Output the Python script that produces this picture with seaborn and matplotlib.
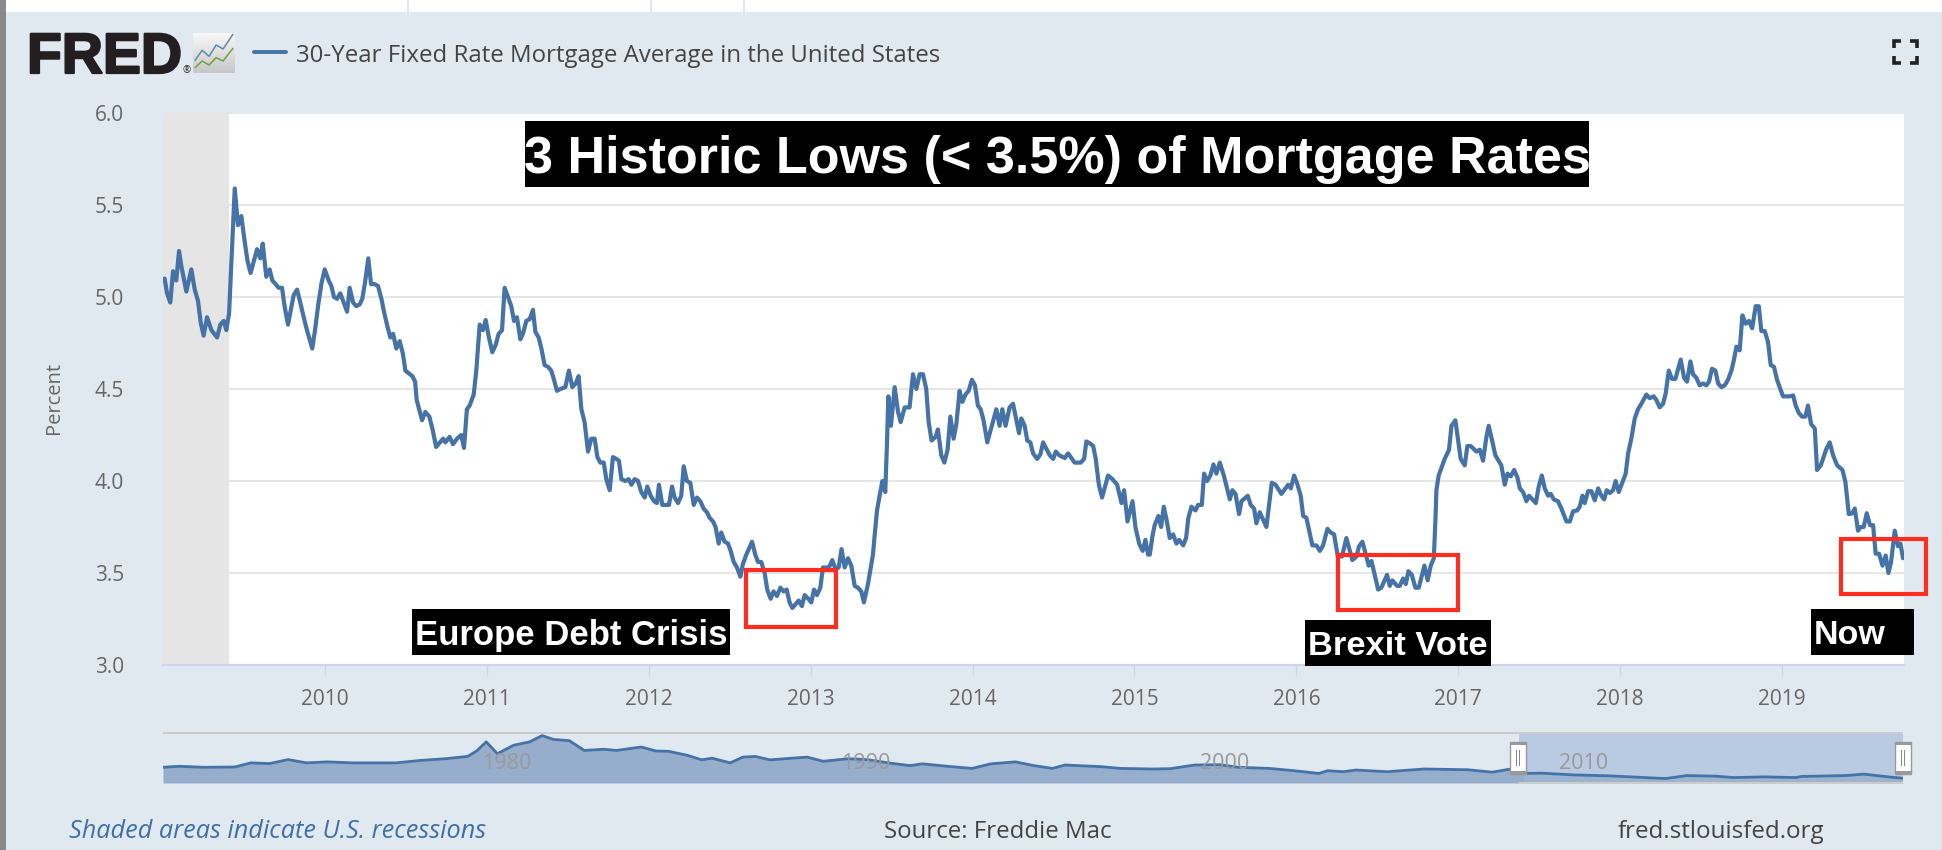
import matplotlib
matplotlib.use("Agg")
import matplotlib.pyplot as plt
import matplotlib.patheffects as pe
from matplotlib.patches import Rectangle
import seaborn as sns
import pandas as pd
import numpy as np

W, H = 1942, 850

# weekly rate, percent by decimal year
years_2009 = [2009.010, 2009.025, 2009.045, 2009.062, 2009.082, 2009.099, 2009.113, 2009.144, 2009.175, 2009.196,
              2009.216, 2009.233, 2009.251, 2009.272, 2009.299, 2009.334, 2009.354, 2009.375, 2009.391, 2009.408,
              2009.443, 2009.463, 2009.484, 2009.500, 2009.521, 2009.541, 2009.581, 2009.601, 2009.616, 2009.638,
              2009.659, 2009.675, 2009.696, 2009.714, 2009.735, 2009.751, 2009.772, 2009.807, 2009.828, 2009.848,
              2009.869, 2009.889, 2009.922, 2009.939, 2009.959, 2009.980, 2009.999]
rates_2009 = [5.10, 5.02, 4.97, 5.14, 5.09, 5.25, 5.17, 5.03, 5.15, 5.04,
              4.98, 4.86, 4.79, 4.89, 4.82, 4.78, 4.85, 4.87, 4.82, 4.91,
              5.59, 5.39, 5.44, 5.33, 5.20, 5.13, 5.26, 5.21, 5.29, 5.11,
              5.15, 5.09, 5.07, 5.05, 5.05, 4.95, 4.85, 5.01, 5.04, 4.97,
              4.89, 4.82, 4.72, 4.82, 4.96, 5.08, 5.15]

years_2010 = [2010.023, 2010.040, 2010.056, 2010.075, 2010.095, 2010.116, 2010.137, 2010.153, 2010.174, 2010.194,
              2010.215, 2010.231, 2010.248, 2010.268, 2010.285, 2010.307, 2010.328, 2010.349, 2010.365, 2010.386,
              2010.404, 2010.421, 2010.441, 2010.462, 2010.482, 2010.497, 2010.540, 2010.557, 2010.567, 2010.600,
              2010.620, 2010.645, 2010.665, 2010.687, 2010.730, 2010.744, 2010.770, 2010.791, 2010.816, 2010.842,
              2010.859, 2010.877, 2010.894, 2010.919, 2010.935, 2010.956, 2010.976, 2010.993]
rates_2010 = [5.09, 5.06, 5.00, 4.99, 5.02, 4.97, 4.92, 5.05, 4.97, 4.95,
              4.96, 4.99, 5.08, 5.21, 5.07, 5.07, 5.06, 4.99, 4.92, 4.84,
              4.78, 4.80, 4.72, 4.76, 4.69, 4.60, 4.57, 4.54, 4.44, 4.33,
              4.375, 4.35, 4.28, 4.185, 4.23, 4.21, 4.24, 4.20, 4.23, 4.25,
              4.18, 4.39, 4.41, 4.47, 4.60, 4.85, 4.82, 4.875]

years_2011 = [2011.013, 2011.034, 2011.055, 2011.073, 2011.094, 2011.110, 2011.131, 2011.151, 2011.168, 2011.186,
              2011.207, 2011.223, 2011.244, 2011.265, 2011.285, 2011.300, 2011.320, 2011.337, 2011.357, 2011.378,
              2011.398, 2011.415, 2011.433, 2011.454, 2011.485, 2011.507, 2011.528, 2011.549, 2011.567, 2011.584,
              2011.604, 2011.625, 2011.645, 2011.666, 2011.683, 2011.701, 2011.722, 2011.738, 2011.759, 2011.779,
              2011.800, 2011.816, 2011.831, 2011.855, 2011.876, 2011.893, 2011.913, 2011.934, 2011.954, 2011.975,
              2011.991]
rates_2011 = [4.78, 4.70, 4.74, 4.80, 4.82, 5.05, 5.00, 4.95, 4.87, 4.89,
              4.77, 4.80, 4.87, 4.88, 4.93, 4.81, 4.78, 4.72, 4.63, 4.62,
              4.60, 4.55, 4.49, 4.50, 4.51, 4.60, 4.51, 4.53, 4.57, 4.39,
              4.32, 4.16, 4.23, 4.23, 4.13, 4.10, 4.10, 4.01, 3.95, 4.13,
              4.12, 4.11, 4.01, 4.00, 4.01, 3.98, 4.01, 4.00, 3.94, 3.91,
              3.97]

years_2012 = [2012.012, 2012.033, 2012.051, 2012.063, 2012.084, 2012.125, 2012.144, 2012.160, 2012.181, 2012.201,
              2012.216, 2012.236, 2012.257, 2012.278, 2012.298, 2012.319, 2012.339, 2012.360, 2012.376, 2012.397,
              2012.413, 2012.432, 2012.448, 2012.469, 2012.490, 2012.506, 2012.525, 2012.545, 2012.566, 2012.582,
              2012.603, 2012.638, 2012.658, 2012.675, 2012.695, 2012.716, 2012.732, 2012.753, 2012.771, 2012.792,
              2012.813, 2012.833, 2012.852, 2012.870, 2012.887, 2012.907, 2012.926, 2012.946, 2012.963, 2012.986]
rates_2012 = [3.92, 3.89, 3.88, 3.98, 3.87, 3.87, 3.97, 3.91, 3.88, 3.92,
              4.08, 4.00, 3.99, 3.87, 3.91, 3.89, 3.85, 3.83, 3.80, 3.78,
              3.75, 3.66, 3.72, 3.67, 3.66, 3.62, 3.56, 3.53, 3.48, 3.55,
              3.60, 3.67, 3.60, 3.56, 3.56, 3.50, 3.41, 3.36, 3.40, 3.375,
              3.42, 3.40, 3.41, 3.34, 3.31, 3.33, 3.35, 3.32, 3.38, 3.36]

years_2013 = [2013.004, 2013.021, 2013.039, 2013.060, 2013.076, 2013.113, 2013.134, 2013.154, 2013.173, 2013.191,
              2013.210, 2013.231, 2013.251, 2013.272, 2013.292, 2013.313, 2013.329, 2013.354, 2013.385, 2013.395,
              2013.410, 2013.426, 2013.443, 2013.461, 2013.471, 2013.480, 2013.496, 2013.519, 2013.539, 2013.556,
              2013.581, 2013.611, 2013.632, 2013.653, 2013.673, 2013.694, 2013.714, 2013.729, 2013.747, 2013.772,
              2013.786, 2013.807, 2013.826, 2013.846, 2013.863, 2013.883, 2013.900, 2013.920, 2013.937, 2013.957,
              2013.976, 2013.996]
rates_2013 = [3.34, 3.41, 3.38, 3.42, 3.53, 3.53, 3.57, 3.52, 3.53, 3.63,
              3.53, 3.58, 3.54, 3.43, 3.42, 3.40, 3.34, 3.44, 3.60, 3.70,
              3.84, 3.92, 4.00, 3.94, 4.19, 4.46, 4.30, 4.51, 4.38, 4.32,
              4.40, 4.40, 4.58, 4.50, 4.58, 4.58, 4.50, 4.32, 4.22, 4.24,
              4.28, 4.14, 4.10, 4.17, 4.35, 4.23, 4.31, 4.49, 4.43, 4.47,
              4.49, 4.55]

years_2014 = [2014.015, 2014.033, 2014.050, 2014.068, 2014.091, 2014.116, 2014.147, 2014.167, 2014.184, 2014.204,
              2014.229, 2014.250, 2014.287, 2014.301, 2014.322, 2014.338, 2014.357, 2014.374, 2014.399, 2014.419,
              2014.436, 2014.456, 2014.477, 2014.498, 2014.514, 2014.535, 2014.570, 2014.590, 2014.631, 2014.668,
              2014.689, 2014.703, 2014.724, 2014.745, 2014.761, 2014.780, 2014.800, 2014.837, 2014.864, 2014.893,
              2014.920, 2014.936, 2014.957, 2014.988]
rates_2014 = [4.52, 4.41, 4.39, 4.33, 4.21, 4.29, 4.39, 4.30, 4.39, 4.30,
              4.40, 4.42, 4.26, 4.34, 4.30, 4.22, 4.21, 4.15, 4.12, 4.145,
              4.21, 4.175, 4.14, 4.12, 4.16, 4.14, 4.125, 4.15, 4.10, 4.10,
              4.12, 4.215, 4.205, 4.19, 4.12, 3.98, 3.91, 4.03, 4.01, 3.98,
              3.88, 3.95, 3.78, 3.89]

years_2015 = [2015.006, 2015.029, 2015.051, 2015.068, 2015.084, 2015.095, 2015.111, 2015.125, 2015.148, 2015.165,
              2015.181, 2015.198, 2015.218, 2015.239, 2015.259, 2015.276, 2015.301, 2015.319, 2015.333, 2015.352,
              2015.377, 2015.393, 2015.416, 2015.430, 2015.449, 2015.469, 2015.488, 2015.506, 2015.527, 2015.552,
              2015.589, 2015.605, 2015.624, 2015.646, 2015.661, 2015.700, 2015.718, 2015.739, 2015.753, 2015.774,
              2015.815, 2015.848, 2015.871, 2015.908, 2015.949, 2015.966, 2015.986]
rates_2015 = [3.75, 3.66, 3.62, 3.68, 3.60, 3.60, 3.70, 3.76, 3.81, 3.75,
              3.86, 3.79, 3.69, 3.71, 3.66, 3.68, 3.65, 3.69, 3.80, 3.86,
              3.84, 3.87, 3.87, 4.04, 4.00, 4.03, 4.09, 4.04, 4.10, 4.03,
              3.90, 3.95, 3.93, 3.82, 3.89, 3.92, 3.87, 3.85, 3.77, 3.83,
              3.75, 3.99, 3.98, 3.93, 3.98, 3.96, 4.03]

years_2016 = [2016.007, 2016.027, 2016.042, 2016.062, 2016.099, 2016.124, 2016.145, 2016.165, 2016.192, 2016.212,
              2016.233, 2016.256, 2016.282, 2016.309, 2016.346, 2016.371, 2016.387, 2016.408, 2016.426, 2016.447,
              2016.464, 2016.484, 2016.505, 2016.525, 2016.560, 2016.577, 2016.593, 2016.622, 2016.639, 2016.659,
              2016.676, 2016.692, 2016.713, 2016.735, 2016.756, 2016.791, 2016.811, 2016.830, 2016.849, 2016.859,
              2016.865, 2016.879, 2016.916, 2016.943, 2016.958, 2016.982, 2016.999]
rates_2016 = [3.98, 3.92, 3.81, 3.80, 3.65, 3.65, 3.62, 3.65, 3.74, 3.72,
              3.71, 3.59, 3.59, 3.69, 3.57, 3.59, 3.645, 3.67, 3.61, 3.54,
              3.565, 3.49, 3.41, 3.42, 3.49, 3.43, 3.46, 3.43, 3.43, 3.47,
              3.44, 3.51, 3.49, 3.42, 3.42, 3.54, 3.46, 3.54, 3.58, 3.79,
              3.95, 4.03, 4.12, 4.17, 4.30, 4.33, 4.22]

years_2017 = [2017.015, 2017.040, 2017.056, 2017.077, 2017.112, 2017.133, 2017.153, 2017.174, 2017.188, 2017.209,
              2017.229, 2017.266, 2017.287, 2017.304, 2017.324, 2017.345, 2017.365, 2017.380, 2017.400, 2017.421,
              2017.437, 2017.479, 2017.497, 2017.516, 2017.534, 2017.555, 2017.571, 2017.590, 2017.616, 2017.637,
              2017.668, 2017.689, 2017.709, 2017.734, 2017.750, 2017.767, 2017.781, 2017.802, 2017.822, 2017.843,
              2017.864, 2017.884, 2017.901, 2017.917, 2017.936, 2017.956, 2017.972, 2017.991]
rates_2017 = [4.12, 4.085, 4.19, 4.19, 4.16, 4.17, 4.11, 4.24, 4.30, 4.22,
              4.14, 4.085, 3.98, 4.04, 4.025, 4.06, 4.02, 3.96, 3.94, 3.89,
              3.92, 3.88, 3.97, 4.03, 3.96, 3.92, 3.93, 3.90, 3.89, 3.85,
              3.78, 3.78, 3.835, 3.84, 3.86, 3.92, 3.88, 3.945, 3.945, 3.895,
              3.96, 3.92, 3.90, 3.95, 3.935, 3.95, 4.00, 3.94]

years_2018 = [2018.034, 2018.049, 2018.069, 2018.090, 2018.110, 2018.131, 2018.162, 2018.182, 2018.207, 2018.224,
              2018.244, 2018.265, 2018.281, 2018.300, 2018.320, 2018.341, 2018.374, 2018.395, 2018.413, 2018.434,
              2018.450, 2018.471, 2018.491, 2018.512, 2018.532, 2018.549, 2018.567, 2018.588, 2018.605, 2018.625,
              2018.646, 2018.666, 2018.687, 2018.703, 2018.718, 2018.738, 2018.755, 2018.775, 2018.796, 2018.815,
              2018.837, 2018.856, 2018.872, 2018.893, 2018.913, 2018.930, 2018.950, 2018.969, 2018.985]
rates_2018 = [4.04, 4.15, 4.23, 4.34, 4.39, 4.42, 4.47, 4.45, 4.46, 4.44,
              4.40, 4.42, 4.475, 4.60, 4.555, 4.555, 4.66, 4.56, 4.54, 4.65,
              4.58, 4.56, 4.52, 4.53, 4.52, 4.54, 4.61, 4.60, 4.53, 4.51,
              4.52, 4.55, 4.60, 4.66, 4.73, 4.71, 4.90, 4.855, 4.87, 4.83,
              4.95, 4.95, 4.815, 4.815, 4.755, 4.63, 4.62, 4.55, 4.51]

years_2019 = [2019.006, 2019.047, 2019.068, 2019.084, 2019.103, 2019.123, 2019.144, 2019.160, 2019.179, 2019.202,
              2019.216, 2019.239, 2019.274, 2019.294, 2019.315, 2019.340, 2019.373, 2019.391, 2019.412, 2019.434,
              2019.449, 2019.469, 2019.486, 2019.504, 2019.523, 2019.543, 2019.562, 2019.578, 2019.599, 2019.620,
              2019.640, 2019.657, 2019.673, 2019.696, 2019.716, 2019.731, 2019.747]
rates_2019 = [4.46, 4.46, 4.465, 4.41, 4.37, 4.35, 4.35, 4.41, 4.31, 4.285,
              4.06, 4.085, 4.175, 4.21, 4.14, 4.085, 4.06, 3.995, 3.82, 3.825,
              3.85, 3.73, 3.75, 3.75, 3.825, 3.76, 3.76, 3.605, 3.605, 3.54,
              3.595, 3.50, 3.56, 3.73, 3.645, 3.66, 3.58]

# long history in the range selector
nav_years = [1971.25, 1971.70, 1972.39, 1973.25, 1973.70, 1974.22, 1974.74, 1975.25, 1975.84, 1976.53,
             1977.74, 1978.43, 1979.12, 1979.74, 1979.99, 1980.26, 1980.57, 1981.02, 1981.47, 1981.82,
             1982.13, 1982.58, 1982.99, 1983.54, 1983.89, 1984.58, 1984.99, 1985.34, 1985.86, 1986.27,
             1986.55, 1987.06, 1987.41, 1987.76, 1988.17, 1988.79, 1989.21, 1989.65, 1990.35, 1990.86,
             1991.55, 1992.07, 1992.42, 1993.11, 1993.80, 1994.32, 1995.01, 1995.52, 1996.04, 1996.39,
             1996.91, 1997.42, 1997.94, 1998.81, 1999.32, 2000.01, 2000.70, 2001.22, 2002.09, 2002.78,
             2003.47, 2003.71, 2004.16, 2004.50, 2005.37, 2006.40, 2007.61, 2008.30, 2008.82, 2009.17,
             2009.68, 2010.55, 2011.58, 2013.13, 2013.72, 2014.52, 2015.03, 2015.90, 2016.76, 2016.93,
             2018.14, 2018.66, 2019.52, 2019.73]
nav_rates = [7.3, 7.65, 7.3, 7.4, 8.84, 8.6, 10.0, 8.84, 9.2, 8.84,
             8.84, 9.7, 10.3, 11.1, 13.0, 16.2, 12.05, 15.0, 16.2, 18.4,
             17.05, 16.6, 13.2, 13.6, 13.2, 14.4, 13.0, 12.9, 11.5, 9.9,
             10.5, 8.84, 10.85, 11.1, 9.9, 10.5, 10.85, 9.4, 10.3, 10.0,
             8.7, 7.9, 8.5, 7.65, 6.9, 8.5, 9.2, 7.9, 6.9, 8.1,
             7.8, 7.5, 6.9, 6.7, 6.8, 8.1, 8.2, 7.3, 6.9, 6.1,
             5.15, 6.1, 5.75, 6.35, 5.75, 6.7, 6.45, 5.6, 6.7, 5.15,
             5.25, 4.65, 4.3, 3.35, 4.4, 4.2, 3.7, 3.95, 3.7, 4.1,
             4.4, 4.9, 3.7, 3.5]

y_ticks = [3.0, 3.5, 4.0, 4.5, 5.0, 5.5, 6.0]
x_years = [2010, 2011, 2012, 2013, 2014, 2015, 2016, 2017, 2018, 2019]
nav_decades = [1980, 1990, 2000, 2010]
recession = (2009.0, 2009.41)

series_name = "30-Year Fixed Rate Mortgage Average in the United States"
chart_title = "3 Historic Lows (< 3.5%) of Mortgage Rates"

BG = "#e1e9f0"
LINE = "#4572a7"
TXT = "#666666"
SANS = "Open Sans"


def px_axes(left, top, right, bottom):
    return [left / W, 1 - bottom / H, (right - left) / W, (bottom - top) / H]


def px_rect(left, top, right, bottom, **kw):
    r = Rectangle((left / W, 1 - bottom / H), (right - left) / W, (bottom - top) / H,
                  transform=fig.transFigure, **kw)
    fig.add_artist(r)
    return r


def px_text(x, y, s, **kw):
    return fig.text(x / W, 1 - y / H, s, **kw)


def label_box(left, top, right, bottom, s, size, text_x=None):
    px_rect(left, top, right, bottom, facecolor="black", edgecolor="none", zorder=6)
    x = (left + right) / 2 if text_x is None else text_x
    ha = "center" if text_x is None else "left"
    px_text(x, (top + bottom) / 2, s, color="white", fontsize=size, fontweight="bold",
            family="Liberation Sans", ha=ha, va="center_baseline", zorder=7)


sns.set_theme(style="white")
plt.rcParams["font.family"] = [SANS, "DejaVu Sans"]

df = pd.DataFrame({
    "year": years_2009 + years_2010 + years_2011 + years_2012 + years_2013 + years_2014
    + years_2015 + years_2016 + years_2017 + years_2018 + years_2019,
    "rate": rates_2009 + rates_2010 + rates_2011 + rates_2012 + rates_2013 + rates_2014
    + rates_2015 + rates_2016 + rates_2017 + rates_2018 + rates_2019,
})
nav = pd.DataFrame({"year": nav_years, "rate": nav_rates})

fig = plt.figure(figsize=(W / 100, H / 100), dpi=100, facecolor=BG)

# main chart
ax = fig.add_axes(px_axes(163, 113, 1904, 665))
ax.set_facecolor("white")
ax.axvspan(*recession, color="#e5e5e5", lw=0, zorder=1.5)
sns.lineplot(data=df, x="year", y="rate", color=LINE, linewidth=3.0, ax=ax, zorder=3,
             estimator=None, errorbar=None)
ax.set_xlim(2009.0, 2019.753)
ax.set_ylim(3.0, 6.0)
ax.set_yticks(y_ticks, [f"{v:.1f}" for v in y_ticks])
ax.set_xticks(x_years, [str(v) for v in x_years])
ax.grid(axis="y", color="#e6e6e6", lw=1.4, zorder=1)
ax.set_axisbelow(True)
for side in ["top", "left", "right"]:
    ax.spines[side].set_visible(False)
ax.spines["bottom"].set_color("#ccd6eb")
ax.spines["bottom"].set_linewidth(1.6)
ax.tick_params(axis="y", length=0, pad=28, labelsize=15, labelcolor=TXT)
ax.tick_params(axis="x", length=7, width=1, color="#ccd6eb", pad=10, labelsize=15, labelcolor=TXT, bottom=True)
ax.set_xlabel("")
ax.set_ylabel("")
px_text(54, 398, "Percent", rotation=90, color=TXT, fontsize=14.5, ha="center", va="center")

# range selector
nx = fig.add_axes(px_axes(163, 733, 1903, 783))
nx.set_facecolor(BG)
nx.fill_between(nav["year"], nav["rate"], 1.8, color="#96aecb", lw=0, zorder=2)
sns.lineplot(data=nav, x="year", y="rate", color=LINE, linewidth=2.0, ax=nx, zorder=4,
             estimator=None, errorbar=None)
nx.axvspan(2009.04, 2019.75, color="#b9cbe2", lw=0, zorder=1)
nx.fill_between(nav["year"][nav["year"] >= 2009], nav["rate"][nav["year"] >= 2009], 1.8,
                color="#9db4d0", lw=0, zorder=2.5)
nx.set_xlim(1971.25, 2019.75)
nx.set_ylim(1.8, 19.3)
nx.set_yticks([])
nx.set_xticks([])
nx.set_xlabel("")
nx.set_ylabel("")
for s in nx.spines.values():
    s.set_visible(False)
for d in nav_decades:
    nx.text(d + 0.15, 8.5, str(d), color="#999999", fontsize=15.5, ha="left", va="center", zorder=5)
px_rect(163, 732, 1903, 734, facecolor="#cccccc", edgecolor="none", zorder=5)
px_rect(1518, 782, 1903, 784, facecolor="#cccccc", edgecolor="none", zorder=5)

# selector handles
for hx in [1518, 1903]:
    px_rect(hx - 8, 742, hx + 8, 774, facecolor="white", edgecolor="#999999", lw=1, zorder=6)
    px_rect(hx - 8, 742, hx + 8, 745, facecolor="#999999", edgecolor="none", zorder=6)
    px_rect(hx - 8, 771, hx + 8, 774, facecolor="#999999", edgecolor="none", zorder=6)
    px_rect(hx - 2, 750, hx - 1, 766, facecolor="#888888", edgecolor="none", zorder=7)
    px_rect(hx + 1, 750, hx + 2, 766, facecolor="#888888", edgecolor="none", zorder=7)

# screenshot edges
px_rect(0, 0, W, 12, facecolor="white", edgecolor="none", zorder=1)
px_rect(0, 0, 6, H, facecolor="#8a8a8a", edgecolor="none", zorder=8)
for vx in [407, 650, 743]:
    px_rect(vx, 0, vx + 2, 12, facecolor=BG, edgecolor="none", zorder=2)

# logo and legend
px_text(27, 73, "FRED", family="Liberation Sans", fontweight="bold", fontsize=41, color="#231f20",
        ha="left", va="baseline",
        path_effects=[pe.withStroke(linewidth=1.6, foreground="#231f20")])
px_text(182, 73, "®", fontsize=7, color="#231f20", ha="left", va="baseline")
icon = fig.add_axes(px_axes(193, 33, 235, 73))
icon.imshow(np.linspace(0.97, 0.78, 64)[:, None], cmap="gray", vmin=0, vmax=1, aspect="auto",
            extent=(0, 6, 0, 6))
sns.lineplot(x=[0.3, 1.3, 2.3, 3.3, 4.3, 5.7], y=[1.9, 3.4, 2.5, 4.2, 3.6, 5.8], color="#5b8bb0", linewidth=1.1,
             ax=icon, estimator=None, errorbar=None)
sns.lineplot(x=[0.3, 1.3, 2.3, 3.3, 4.3, 5.7], y=[0.8, 1.8, 1.2, 2.3, 1.8, 3.7], color="#6fa33f", linewidth=1.1,
             ax=icon, estimator=None, errorbar=None)
icon.set_xlim(0, 6)
icon.set_ylim(0, 6)
icon.axis("off")

fig.add_artist(plt.Line2D([254 / W, 286 / W], [1 - 52 / H] * 2, color=LINE, lw=2.8))
px_text(296, 56, series_name, fontsize=17.3, color="#444444", ha="left", va="center")

# expand icon
for cx, cy, sx, sy in [(1894, 41, 1, 1), (1917, 41, -1, 1), (1894, 63, 1, -1), (1917, 63, -1, -1)]:
    fig.add_artist(plt.Line2D([(cx + sx * 7) / W, cx / W, cx / W],
                              [1 - cy / H, 1 - cy / H, 1 - (cy + sy * 7) / H],
                              color="#222222", lw=2.6, solid_capstyle="butt", solid_joinstyle="miter"))

# annotations added on top of the screenshot
label_box(525, 121, 1589, 187, chart_title, 37.5)
label_box(412, 609, 730, 655, "Europe Debt Crisis", 25)
label_box(1305, 620, 1491, 666, "Brexit Vote", 24.8)
label_box(1811, 609, 1914, 655, "Now", 24.5, text_x=1814)

for box in [(746, 570, 836, 627), (1338, 555, 1458, 610), (1841, 539, 1926, 594)]:
    px_rect(box[0], box[1], box[2], box[3], facecolor="none", edgecolor="#ff2d1f", lw=3, zorder=5)

# footer
px_text(69, 832, "Shaded areas indicate U.S. recessions", style="italic", color="#3e6fa8", fontsize=18.2,
        ha="left", va="center")
px_text(884, 832, "Source: Freddie Mac", color="#444444", fontsize=17.3, ha="left", va="center")
px_text(1618, 832, "fred.stlouisfed.org", color="#444444", fontsize=17.4, ha="left", va="center")

fig.savefig("out.png", dpi=100, facecolor=BG)
